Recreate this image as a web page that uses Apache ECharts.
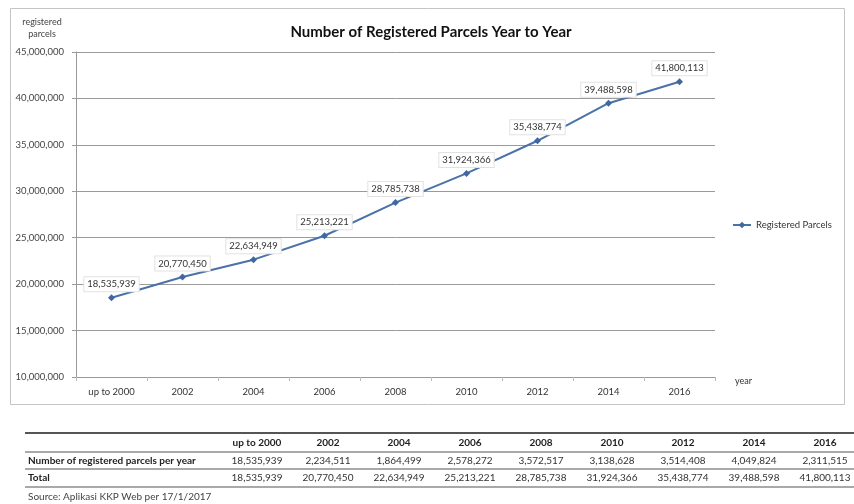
<!DOCTYPE html>
<html>
<head>
<meta charset="utf-8">
<script src="https://cdn.jsdelivr.net/npm/echarts@6/dist/echarts.min.js"></script>
<style>
  html, body { margin: 0; padding: 0; background: #fff; }
  #chart { width: 854px; height: 504px; }
</style>
</head>
<body>
<div id="chart"></div>
<script>
// Years shown on the x axis and as table columns
const years = ['up to 2000', '2002', '2004', '2006', '2008', '2010', '2012', '2014', '2016'];
// Cumulative registered parcels
const totals = [18535939, 20770450, 22634949, 25213221, 28785738, 31924366, 35438774, 39488598, 41800113];
// Parcels registered within each period
const perPeriod = [18535939, 2234511, 1864499, 2578272, 3572517, 3138628, 3514408, 4049824, 2311515];
// Y axis range and step
const yMin = 10000000, yMax = 45000000, yStep = 5000000;

const fmt = v => v.toLocaleString('en-US');
const FONT = 'Lato';

// Table layout
const tblLeft = 25, tblRight = 854;
const colFirst = 257, colStep = 71;
const rowHeader = 443, rowPer = 461, rowTotal = 478;
const tableLines = [433, 452, 469, 487];

const graphics = [];
// chart frame
graphics.push({ type: 'rect', shape: { x: 10.5, y: 8.5, width: 834, height: 396 },
  style: { fill: null, stroke: '#c4c4c4', lineWidth: 1 }, z: -1 });
// table rules
tableLines.forEach((y, i) => {
  graphics.push({ type: 'line', shape: { x1: tblLeft, y1: y, x2: tblRight, y2: y },
    style: { stroke: '#555', lineWidth: i === 0 ? 2 : 1.2 } });
});
// row labels
graphics.push({ type: 'text', x: 28, y: rowPer, style: { text: 'Number of registered parcels per year',
  font: 'bold 10px ' + FONT, fill: '#222', textVerticalAlign: 'middle' } });
graphics.push({ type: 'text', x: 28, y: rowTotal, style: { text: 'Total',
  font: 'bold 10px ' + FONT, fill: '#222', textVerticalAlign: 'middle' } });
// table cells
years.forEach((yr, i) => {
  const cx = colFirst + i * colStep;
  graphics.push({ type: 'text', x: cx, y: rowHeader, style: { text: yr, font: 'bold 10px ' + FONT,
    fill: '#222', textAlign: 'center', textVerticalAlign: 'middle' } });
  graphics.push({ type: 'text', x: cx, y: rowPer, style: { text: fmt(perPeriod[i]), font: '10px ' + FONT,
    fill: '#333', textAlign: 'center', textVerticalAlign: 'middle' } });
  graphics.push({ type: 'text', x: cx, y: rowTotal, style: { text: fmt(totals[i]), font: '10px ' + FONT,
    fill: '#333', textAlign: 'center', textVerticalAlign: 'middle' } });
});
// source note
graphics.push({ type: 'text', x: 28, y: 497, style: { text: 'Source: Aplikasi KKP Web per 17/1/2017',
  font: '10px ' + FONT, fill: '#444', textVerticalAlign: 'middle' } });

const chart = echarts.init(document.getElementById('chart'), null, { renderer: 'canvas' });
chart.setOption({
  backgroundColor: '#fff',
  animation: false,
  textStyle: { fontFamily: FONT },
  title: {
    text: 'Number of Registered Parcels Year to Year',
    left: 426, top: 20, textAlign: 'center',
    textStyle: { fontFamily: FONT, fontWeight: 'bold', fontSize: 15, color: '#111' }
  },
  legend: {
    left: 727, top: 215, orient: 'vertical',
    itemWidth: 18, itemHeight: 8,
    textStyle: { fontFamily: FONT, fontSize: 9.5, color: '#333' },
    data: ['Registered Parcels']
  },
  grid: { left: 76, right: 139, top: 52, bottom: 127 },
  xAxis: {
    type: 'category', data: years, boundaryGap: true,
    name: 'year', nameLocation: 'end', nameGap: 20,
    nameTextStyle: { fontSize: 9, color: '#333', verticalAlign: 'top', padding: [0, 0, 0, 0] },
    axisLine: { lineStyle: { color: '#999' } },
    axisTick: { show: true, alignWithLabel: false, length: 4, lineStyle: { color: '#bbb' } },
    axisLabel: { fontSize: 9.5, color: '#333', margin: 10 }
  },
  yAxis: {
    type: 'value', min: yMin, max: yMax, interval: yStep,
    name: 'registered\nparcels', nameLocation: 'end', nameGap: 12,
    nameTextStyle: { fontSize: 9, color: '#444', align: 'center', padding: [0, 68, 0, 0], lineHeight: 12 },
    axisLine: { show: true, lineStyle: { color: '#999' } },
    axisTick: { show: true, length: 4, lineStyle: { color: '#999' } },
    axisLabel: { fontSize: 9.5, color: '#444', margin: 12, formatter: v => fmt(v) },
    splitLine: { lineStyle: { color: '#9a9a9a', width: 1 } }
  },
  series: [{
    name: 'Registered Parcels', type: 'line', data: totals,
    symbol: 'diamond', symbolSize: 7,
    lineStyle: { color: '#4a72a8', width: 2 },
    itemStyle: { color: '#3f67a0' },
    label: {
      show: true, position: 'top', distance: 3,
      formatter: p => fmt(p.value),
      fontSize: 9.5, color: '#333',
      backgroundColor: '#fff', borderColor: '#e2e2e2', borderWidth: 1, padding: [2, 3]
    }
  }],
  graphic: graphics
});
</script>
</body>
</html>
